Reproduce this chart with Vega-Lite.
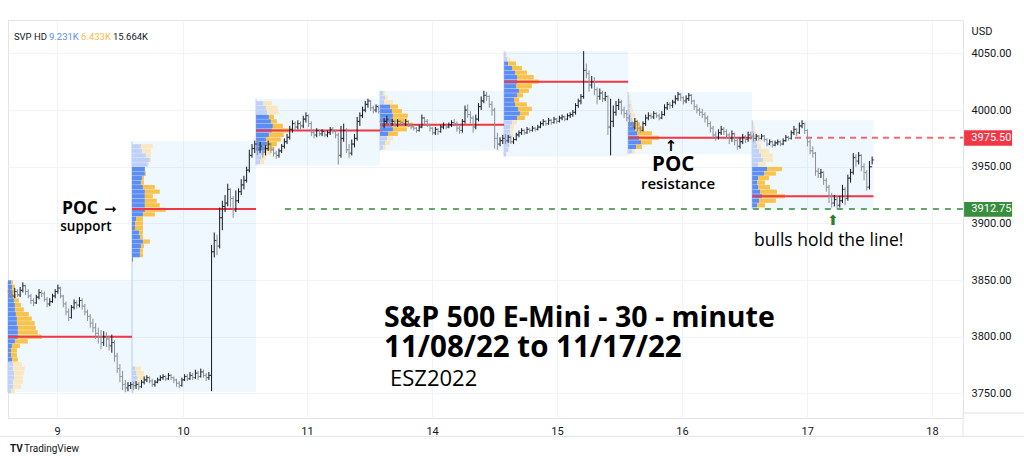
{
"$schema": "https://vega.github.io/schema/vega-lite/v6.json",
"width": 955, "height": 398,
"autosize": {"type": "none"},
"padding": {"left": 8, "top": 20, "right": 61, "bottom": 51},
"background": "white",
"config": {"view": {"stroke": "#e0e3eb"}, "font": "Roboto"},
"datasets": {
"bars": [
{"i":0,"o":3840,"h":3843,"l":3834,"c":3838},{"i":1,"o":3838,"h":3841,"l":3833,"c":3836},{"i":2,"o":3836,"h":3843,"l":3834,"c":3840},{"i":3,"o":3840,"h":3842,"l":3835,"c":3837},{"i":4,"o":3837,"h":3844,"l":3835,"c":3841},{"i":5,"o":3841,"h":3848,"l":3839,"c":3845},{"i":6,"o":3845,"h":3846,"l":3837,"c":3840},{"i":7,"o":3840,"h":3842,"l":3834,"c":3836},{"i":8,"o":3836,"h":3838,"l":3829,"c":3832},{"i":9,"o":3832,"h":3834,"l":3827,"c":3830},
{"i":10,"o":3830,"h":3837,"l":3829,"c":3835},{"i":11,"o":3835,"h":3842,"l":3833,"c":3839},{"i":12,"o":3839,"h":3841,"l":3835,"c":3838},{"i":13,"o":3838,"h":3840,"l":3831,"c":3833},{"i":14,"o":3833,"h":3835,"l":3826,"c":3829},{"i":15,"o":3829,"h":3834,"l":3827,"c":3831},{"i":16,"o":3831,"h":3838,"l":3830,"c":3836},{"i":17,"o":3836,"h":3842,"l":3834,"c":3840},{"i":18,"o":3840,"h":3846,"l":3838,"c":3843},{"i":19,"o":3843,"h":3844,"l":3834,"c":3836},
{"i":20,"o":3836,"h":3837,"l":3826,"c":3829},{"i":21,"o":3829,"h":3831,"l":3819,"c":3822},{"i":22,"o":3822,"h":3825,"l":3814,"c":3817},{"i":23,"o":3817,"h":3828,"l":3816,"c":3826},{"i":24,"o":3826,"h":3833,"l":3824,"c":3830},{"i":25,"o":3830,"h":3832,"l":3825,"c":3828},{"i":26,"o":3828,"h":3835,"l":3826,"c":3832},{"i":27,"o":3832,"h":3834,"l":3824,"c":3827},{"i":28,"o":3827,"h":3829,"l":3819,"c":3822},{"i":29,"o":3822,"h":3824,"l":3814,"c":3818},
{"i":30,"o":3818,"h":3820,"l":3808,"c":3812},{"i":31,"o":3812,"h":3816,"l":3804,"c":3808},{"i":32,"o":3808,"h":3812,"l":3798,"c":3803},{"i":33,"o":3803,"h":3808,"l":3794,"c":3800},{"i":34,"o":3800,"h":3806,"l":3789,"c":3795},{"i":35,"o":3795,"h":3805,"l":3792,"c":3800},{"i":36,"o":3800,"h":3804,"l":3791,"c":3798},{"i":37,"o":3798,"h":3801,"l":3788,"c":3792},{"i":38,"o":3792,"h":3802,"l":3786,"c":3795},{"i":39,"o":3795,"h":3797,"l":3778,"c":3783},
{"i":40,"o":3783,"h":3786,"l":3768,"c":3772},{"i":41,"o":3772,"h":3776,"l":3760,"c":3765},{"i":42,"o":3765,"h":3770,"l":3753,"c":3758},{"i":43,"o":3758,"h":3762,"l":3751,"c":3755},{"i":44,"o":3755,"h":3760,"l":3752,"c":3757},{"i":45,"o":3757,"h":3760,"l":3754,"c":3758},
{"i":46,"o":3758,"h":3760,"l":3753,"c":3757},{"i":47,"o":3757,"h":3761,"l":3754,"c":3758},{"i":48,"o":3758,"h":3760,"l":3753,"c":3756},{"i":49,"o":3756,"h":3762,"l":3755,"c":3760},{"i":50,"o":3760,"h":3765,"l":3758,"c":3762},{"i":51,"o":3762,"h":3766,"l":3760,"c":3764},{"i":52,"o":3764,"h":3765,"l":3759,"c":3761},{"i":53,"o":3761,"h":3763,"l":3756,"c":3758},{"i":54,"o":3758,"h":3762,"l":3756,"c":3760},{"i":55,"o":3760,"h":3764,"l":3759,"c":3762},
{"i":56,"o":3762,"h":3766,"l":3761,"c":3764},{"i":57,"o":3764,"h":3767,"l":3762,"c":3765},{"i":58,"o":3765,"h":3766,"l":3761,"c":3763},{"i":59,"o":3763,"h":3768,"l":3762,"c":3766},{"i":60,"o":3766,"h":3767,"l":3762,"c":3764},{"i":61,"o":3764,"h":3765,"l":3759,"c":3762},{"i":62,"o":3762,"h":3763,"l":3756,"c":3759},{"i":63,"o":3759,"h":3761,"l":3755,"c":3757},{"i":64,"o":3757,"h":3764,"l":3756,"c":3762},{"i":65,"o":3762,"h":3767,"l":3761,"c":3765},
{"i":66,"o":3765,"h":3767,"l":3761,"c":3763},{"i":67,"o":3763,"h":3769,"l":3762,"c":3766},{"i":68,"o":3766,"h":3768,"l":3762,"c":3764},{"i":69,"o":3764,"h":3771,"l":3763,"c":3768},{"i":70,"o":3768,"h":3770,"l":3762,"c":3765},{"i":71,"o":3765,"h":3772,"l":3764,"c":3769},{"i":72,"o":3769,"h":3771,"l":3764,"c":3766},{"i":73,"o":3766,"h":3768,"l":3761,"c":3764},{"i":74,"o":3764,"h":3769,"l":3762,"c":3766},{"i":75,"o":3766,"h":3881,"l":3752,"c":3875},
{"i":76,"o":3875,"h":3892,"l":3870,"c":3885},{"i":77,"o":3885,"h":3890,"l":3872,"c":3880},{"i":78,"o":3880,"h":3914,"l":3878,"c":3905},{"i":79,"o":3905,"h":3920,"l":3894,"c":3915},{"i":80,"o":3915,"h":3925,"l":3910,"c":3918},{"i":81,"o":3918,"h":3935,"l":3915,"c":3930},{"i":82,"o":3930,"h":3931,"l":3914,"c":3922},{"i":83,"o":3922,"h":3924,"l":3905,"c":3912},{"i":84,"o":3912,"h":3929,"l":3910,"c":3920},{"i":85,"o":3920,"h":3931,"l":3918,"c":3928},
{"i":86,"o":3928,"h":3939,"l":3925,"c":3934},{"i":87,"o":3934,"h":3942,"l":3930,"c":3938},{"i":88,"o":3938,"h":3950,"l":3936,"c":3947},{"i":89,"o":3947,"h":3965,"l":3945,"c":3960},{"i":90,"o":3960,"h":3970,"l":3958,"c":3966},{"i":91,"o":3966,"h":3973,"l":3962,"c":3970},
{"i":92,"o":3970,"h":3974,"l":3960,"c":3965},{"i":93,"o":3965,"h":3972,"l":3962,"c":3968},{"i":94,"o":3968,"h":3970,"l":3958,"c":3963},{"i":95,"o":3963,"h":3969,"l":3960,"c":3966},{"i":96,"o":3966,"h":3973,"l":3964,"c":3970},{"i":97,"o":3970,"h":3971,"l":3962,"c":3965},{"i":98,"o":3965,"h":3967,"l":3959,"c":3962},{"i":99,"o":3962,"h":3964,"l":3957,"c":3960},{"i":100,"o":3960,"h":3966,"l":3958,"c":3964},{"i":101,"o":3964,"h":3970,"l":3962,"c":3968},
{"i":102,"o":3968,"h":3975,"l":3966,"c":3972},{"i":103,"o":3972,"h":3979,"l":3970,"c":3976},{"i":104,"o":3976,"h":3986,"l":3974,"c":3983},{"i":105,"o":3983,"h":3991,"l":3980,"c":3988},{"i":106,"o":3988,"h":3990,"l":3982,"c":3985},{"i":107,"o":3985,"h":3991,"l":3983,"c":3988},{"i":108,"o":3988,"h":3990,"l":3983,"c":3986},{"i":109,"o":3986,"h":3995,"l":3984,"c":3992},{"i":110,"o":3992,"h":3998,"l":3989,"c":3995},{"i":111,"o":3995,"h":3996,"l":3985,"c":3988},
{"i":112,"o":3988,"h":3990,"l":3977,"c":3980},{"i":113,"o":3980,"h":3983,"l":3975,"c":3978},{"i":114,"o":3978,"h":3984,"l":3976,"c":3982},{"i":115,"o":3982,"h":3983,"l":3977,"c":3979},{"i":116,"o":3979,"h":3983,"l":3977,"c":3981},{"i":117,"o":3981,"h":3982,"l":3976,"c":3978},{"i":118,"o":3978,"h":3982,"l":3976,"c":3980},{"i":119,"o":3980,"h":3985,"l":3978,"c":3983},{"i":120,"o":3983,"h":3985,"l":3979,"c":3981},{"i":121,"o":3981,"h":3983,"l":3975,"c":3978},
{"i":122,"o":3978,"h":3980,"l":3952,"c":3960},{"i":123,"o":3960,"h":3986,"l":3958,"c":3975},{"i":124,"o":3975,"h":3988,"l":3972,"c":3982},{"i":125,"o":3982,"h":3984,"l":3962,"c":3965},{"i":126,"o":3965,"h":3970,"l":3958,"c":3962},{"i":127,"o":3962,"h":3974,"l":3960,"c":3970},{"i":128,"o":3970,"h":3979,"l":3967,"c":3975},{"i":129,"o":3975,"h":3994,"l":3973,"c":3990},{"i":130,"o":3990,"h":3998,"l":3986,"c":3995},{"i":131,"o":3995,"h":4003,"l":3993,"c":4000},
{"i":132,"o":4000,"h":4008,"l":3998,"c":4005},{"i":133,"o":4005,"h":4010,"l":4002,"c":4008},{"i":134,"o":4008,"h":4009,"l":3999,"c":4002},{"i":135,"o":4002,"h":4004,"l":3997,"c":4000},{"i":136,"o":4000,"h":4005,"l":3998,"c":4003},{"i":137,"o":4003,"h":4004,"l":3997,"c":3999},
{"i":138,"o":3990,"h":3993,"l":3980,"c":3986},{"i":139,"o":3986,"h":3993,"l":3984,"c":3990},{"i":140,"o":3990,"h":3995,"l":3988,"c":3992},{"i":141,"o":3992,"h":3994,"l":3986,"c":3988},{"i":142,"o":3988,"h":3992,"l":3986,"c":3990},{"i":143,"o":3990,"h":3991,"l":3985,"c":3987},{"i":144,"o":3987,"h":3992,"l":3985,"c":3990},{"i":145,"o":3990,"h":3991,"l":3987,"c":3989},{"i":146,"o":3989,"h":3990,"l":3986,"c":3988},{"i":147,"o":3988,"h":3992,"l":3986,"c":3990},
{"i":148,"o":3990,"h":3991,"l":3985,"c":3987},{"i":149,"o":3987,"h":3988,"l":3983,"c":3985},{"i":150,"o":3985,"h":3987,"l":3982,"c":3984},{"i":151,"o":3984,"h":3985,"l":3980,"c":3982},{"i":152,"o":3982,"h":3987,"l":3981,"c":3985},{"i":153,"o":3985,"h":3996,"l":3984,"c":3993},{"i":154,"o":3993,"h":3994,"l":3987,"c":3990},{"i":155,"o":3990,"h":3992,"l":3985,"c":3987},{"i":156,"o":3987,"h":3988,"l":3981,"c":3984},{"i":157,"o":3984,"h":3985,"l":3978,"c":3980},
{"i":158,"o":3980,"h":3985,"l":3978,"c":3983},{"i":159,"o":3983,"h":3984,"l":3978,"c":3981},{"i":160,"o":3981,"h":3987,"l":3980,"c":3985},{"i":161,"o":3985,"h":3989,"l":3983,"c":3987},{"i":162,"o":3987,"h":3988,"l":3983,"c":3985},{"i":163,"o":3985,"h":3989,"l":3984,"c":3987},{"i":164,"o":3987,"h":3991,"l":3985,"c":3989},{"i":165,"o":3989,"h":3992,"l":3986,"c":3988},{"i":166,"o":3988,"h":3990,"l":3981,"c":3984},{"i":167,"o":3984,"h":3986,"l":3979,"c":3982},
{"i":168,"o":3982,"h":3992,"l":3980,"c":3990},{"i":169,"o":3990,"h":4004,"l":3988,"c":4000},{"i":170,"o":4000,"h":4005,"l":3993,"c":3996},{"i":171,"o":3996,"h":3999,"l":3988,"c":3993},{"i":172,"o":3993,"h":3995,"l":3980,"c":3985},{"i":173,"o":3985,"h":3996,"l":3983,"c":3992},{"i":174,"o":3992,"h":4006,"l":3990,"c":4003},{"i":175,"o":4003,"h":4012,"l":4000,"c":4008},{"i":176,"o":4008,"h":4017,"l":4006,"c":4013},{"i":177,"o":4013,"h":4016,"l":4008,"c":4012},
{"i":178,"o":4012,"h":4013,"l":4002,"c":4005},{"i":179,"o":4005,"h":4008,"l":3995,"c":4000},{"i":180,"o":4000,"h":4002,"l":3966,"c":3975},{"i":181,"o":3975,"h":3980,"l":3965,"c":3970},{"i":182,"o":3970,"h":3976,"l":3968,"c":3973},{"i":183,"o":3973,"h":3978,"l":3970,"c":3975},
{"i":184,"o":3975,"h":3979,"l":3970,"c":3973},{"i":185,"o":3973,"h":3978,"l":3971,"c":3976},{"i":186,"o":3976,"h":3977,"l":3970,"c":3972},{"i":187,"o":3972,"h":3976,"l":3970,"c":3974},{"i":188,"o":3974,"h":3980,"l":3973,"c":3978},{"i":189,"o":3978,"h":3982,"l":3976,"c":3980},{"i":190,"o":3980,"h":3984,"l":3978,"c":3982},{"i":191,"o":3982,"h":3983,"l":3978,"c":3980},{"i":192,"o":3980,"h":3985,"l":3979,"c":3983},{"i":193,"o":3983,"h":3984,"l":3980,"c":3982},
{"i":194,"o":3982,"h":3986,"l":3981,"c":3984},{"i":195,"o":3984,"h":3985,"l":3981,"c":3983},{"i":196,"o":3983,"h":3987,"l":3982,"c":3985},{"i":197,"o":3985,"h":3990,"l":3984,"c":3988},{"i":198,"o":3988,"h":3992,"l":3986,"c":3990},{"i":199,"o":3990,"h":3991,"l":3986,"c":3988},{"i":200,"o":3988,"h":3993,"l":3987,"c":3991},{"i":201,"o":3991,"h":3992,"l":3987,"c":3989},{"i":202,"o":3989,"h":3994,"l":3988,"c":3992},{"i":203,"o":3992,"h":3993,"l":3988,"c":3990},
{"i":204,"o":3990,"h":3995,"l":3989,"c":3993},{"i":205,"o":3993,"h":3996,"l":3991,"c":3994},{"i":206,"o":3994,"h":3995,"l":3990,"c":3992},{"i":207,"o":3992,"h":3997,"l":3991,"c":3995},{"i":208,"o":3995,"h":3998,"l":3993,"c":3996},{"i":209,"o":3996,"h":4000,"l":3994,"c":3998},{"i":210,"o":3998,"h":4006,"l":3996,"c":4004},{"i":211,"o":4004,"h":4010,"l":4002,"c":4008},{"i":212,"o":4008,"h":4014,"l":4005,"c":4012},{"i":213,"o":4012,"h":4052,"l":4010,"c":4035},
{"i":214,"o":4035,"h":4041,"l":4028,"c":4032},{"i":215,"o":4032,"h":4035,"l":4016,"c":4022},{"i":216,"o":4022,"h":4030,"l":4019,"c":4025},{"i":217,"o":4025,"h":4029,"l":4013,"c":4018},{"i":218,"o":4018,"h":4020,"l":4005,"c":4012},{"i":219,"o":4012,"h":4019,"l":4009,"c":4015},{"i":220,"o":4015,"h":4017,"l":4007,"c":4010},{"i":221,"o":4010,"h":4016,"l":4008,"c":4012},{"i":222,"o":4012,"h":4013,"l":3978,"c":3985},{"i":223,"o":3985,"h":4010,"l":3960,"c":3990},
{"i":224,"o":3990,"h":4004,"l":3985,"c":3998},{"i":225,"o":3998,"h":4008,"l":3995,"c":4004},{"i":226,"o":4004,"h":4010,"l":4000,"c":4007},{"i":227,"o":4007,"h":4009,"l":3996,"c":4000},{"i":228,"o":4000,"h":4003,"l":3993,"c":3997},{"i":229,"o":3997,"h":4000,"l":3990,"c":3993},
{"i":230,"o":3993,"h":3996,"l":3985,"c":3988},{"i":231,"o":3988,"h":3990,"l":3982,"c":3985},{"i":232,"o":3985,"h":3993,"l":3983,"c":3990},{"i":233,"o":3990,"h":3991,"l":3981,"c":3984},{"i":234,"o":3984,"h":3986,"l":3980,"c":3982},{"i":235,"o":3982,"h":3990,"l":3981,"c":3988},{"i":236,"o":3988,"h":3996,"l":3986,"c":3993},{"i":237,"o":3993,"h":3998,"l":3991,"c":3995},{"i":238,"o":3995,"h":3997,"l":3992,"c":3994},{"i":239,"o":3994,"h":3999,"l":3992,"c":3997},
{"i":240,"o":3997,"h":3998,"l":3993,"c":3995},{"i":241,"o":3995,"h":3997,"l":3991,"c":3993},{"i":242,"o":3993,"h":3999,"l":3992,"c":3996},{"i":243,"o":3996,"h":4005,"l":3995,"c":4002},{"i":244,"o":4002,"h":4007,"l":4000,"c":4005},{"i":245,"o":4005,"h":4007,"l":4001,"c":4004},{"i":246,"o":4004,"h":4009,"l":4002,"c":4007},{"i":247,"o":4007,"h":4013,"l":4005,"c":4010},{"i":248,"o":4010,"h":4016,"l":4008,"c":4014},{"i":249,"o":4014,"h":4015,"l":4008,"c":4011},
{"i":250,"o":4011,"h":4012,"l":4005,"c":4008},{"i":251,"o":4008,"h":4013,"l":4006,"c":4010},{"i":252,"o":4010,"h":4015,"l":4008,"c":4013},{"i":253,"o":4013,"h":4014,"l":4005,"c":4008},{"i":254,"o":4008,"h":4009,"l":4000,"c":4003},{"i":255,"o":4003,"h":4005,"l":3997,"c":4000},{"i":256,"o":4000,"h":4002,"l":3995,"c":3998},{"i":257,"o":3998,"h":4001,"l":3993,"c":3996},{"i":258,"o":3996,"h":3998,"l":3989,"c":3993},{"i":259,"o":3993,"h":3995,"l":3985,"c":3988},
{"i":260,"o":3988,"h":3990,"l":3980,"c":3984},{"i":261,"o":3984,"h":3986,"l":3975,"c":3978},{"i":262,"o":3978,"h":3981,"l":3973,"c":3976},{"i":263,"o":3976,"h":3983,"l":3974,"c":3980},{"i":264,"o":3980,"h":3986,"l":3978,"c":3983},{"i":265,"o":3983,"h":3985,"l":3978,"c":3981},{"i":266,"o":3981,"h":3983,"l":3975,"c":3978},{"i":267,"o":3978,"h":3980,"l":3970,"c":3975},{"i":268,"o":3975,"h":3982,"l":3972,"c":3979},{"i":269,"o":3979,"h":3980,"l":3969,"c":3973},
{"i":270,"o":3973,"h":3975,"l":3965,"c":3968},{"i":271,"o":3968,"h":3976,"l":3966,"c":3972},{"i":272,"o":3972,"h":3979,"l":3970,"c":3976},{"i":273,"o":3976,"h":3978,"l":3971,"c":3974},{"i":274,"o":3974,"h":3981,"l":3972,"c":3978},{"i":275,"o":3978,"h":3981,"l":3974,"c":3977},
{"i":276,"o":3977,"h":3980,"l":3972,"c":3975},{"i":277,"o":3975,"h":3979,"l":3973,"c":3977},{"i":278,"o":3977,"h":3978,"l":3973,"c":3975},{"i":279,"o":3975,"h":3979,"l":3974,"c":3977},{"i":280,"o":3977,"h":3978,"l":3972,"c":3974},{"i":281,"o":3974,"h":3975,"l":3968,"c":3970},{"i":282,"o":3970,"h":3974,"l":3969,"c":3972},{"i":283,"o":3972,"h":3973,"l":3967,"c":3969},{"i":284,"o":3969,"h":3973,"l":3968,"c":3971},{"i":285,"o":3971,"h":3974,"l":3969,"c":3972},
{"i":286,"o":3972,"h":3973,"l":3968,"c":3970},{"i":287,"o":3970,"h":3975,"l":3969,"c":3973},{"i":288,"o":3973,"h":3978,"l":3972,"c":3976},{"i":289,"o":3976,"h":3977,"l":3973,"c":3975},{"i":290,"o":3975,"h":3982,"l":3974,"c":3980},{"i":291,"o":3980,"h":3986,"l":3978,"c":3983},{"i":292,"o":3983,"h":3984,"l":3977,"c":3980},{"i":293,"o":3980,"h":3989,"l":3979,"c":3986},{"i":294,"o":3986,"h":3991,"l":3984,"c":3988},{"i":295,"o":3988,"h":3989,"l":3979,"c":3982},
{"i":296,"o":3982,"h":3983,"l":3968,"c":3972},{"i":297,"o":3972,"h":3974,"l":3961,"c":3964},{"i":298,"o":3964,"h":3968,"l":3958,"c":3962},{"i":299,"o":3962,"h":3963,"l":3942,"c":3946},{"i":300,"o":3946,"h":3949,"l":3940,"c":3944},{"i":301,"o":3944,"h":3948,"l":3940,"c":3945},{"i":302,"o":3945,"h":3946,"l":3934,"c":3938},{"i":303,"o":3938,"h":3940,"l":3928,"c":3932},{"i":304,"o":3932,"h":3934,"l":3918,"c":3924},{"i":305,"o":3924,"h":3927,"l":3914,"c":3918},
{"i":306,"o":3918,"h":3925,"l":3915,"c":3921},{"i":307,"o":3921,"h":3923,"l":3913,"c":3916},{"i":308,"o":3916,"h":3924,"l":3914,"c":3920},{"i":309,"o":3920,"h":3934,"l":3918,"c":3930},{"i":310,"o":3930,"h":3932,"l":3916,"c":3922},{"i":311,"o":3922,"h":3943,"l":3920,"c":3940},{"i":312,"o":3940,"h":3948,"l":3936,"c":3945},{"i":313,"o":3945,"h":3962,"l":3943,"c":3958},{"i":314,"o":3958,"h":3961,"l":3950,"c":3955},{"i":315,"o":3955,"h":3963,"l":3952,"c":3960},
{"i":316,"o":3960,"h":3961,"l":3946,"c":3950},{"i":317,"o":3950,"h":3953,"l":3938,"c":3945},{"i":318,"o":3945,"h":3947,"l":3929,"c":3932},{"i":319,"o":3932,"h":3955,"l":3930,"c":3950},{"i":320,"o":3950,"h":3959,"l":3952,"c":3956}
],
"sess": [
{"t0":-0.5,"t1":45.5,"lo":3751,"hi":3849,"poc":3800},
{"t0":45.5,"t1":91.5,"lo":3751,"hi":3972.5,"poc":3912.75},
{"t0":91.5,"t1":137.5,"lo":3951,"hi":4010,"poc":3982},
{"t0":137.5,"t1":183.5,"lo":3964,"hi":4017,"poc":3987},
{"t0":183.5,"t1":229.5,"lo":3959,"hi":4052,"poc":4025},
{"t0":229.5,"t1":275.5,"lo":3961,"hi":4016,"poc":3975.5},
{"t0":275.5,"t1":320.5,"lo":3912.75,"hi":3991,"poc":3924}
],
"prof": [
{"t":-0.5,"p":3848,"u":9,"d":6,"f":0},{"t":-0.5,"p":3844,"u":12,"d":9,"f":0},{"t":-0.5,"p":3840,"u":12,"d":9,"f":0},{"t":-0.5,"p":3836,"u":15,"d":9,"f":0},{"t":-0.5,"p":3832,"u":18,"d":15,"f":0},{"t":-0.5,"p":3828,"u":21,"d":18,"f":0},{"t":-0.5,"p":3824,"u":21,"d":27,"f":0},{"t":-0.5,"p":3820,"u":24,"d":39,"f":0},{"t":-0.5,"p":3816,"u":27,"d":45,"f":0},{"t":-0.5,"p":3812,"u":27,"d":54,"f":0},{"t":-0.5,"p":3808,"u":30,"d":54,"f":0},{"t":-0.5,"p":3804,"u":30,"d":60,"f":0},{"t":-0.5,"p":3800,"u":30,"d":72,"f":0},{"t":-0.5,"p":3796,"u":21,"d":39,"f":0},{"t":-0.5,"p":3792,"u":12,"d":24,"f":0},{"t":-0.5,"p":3788,"u":9,"d":18,"f":0},{"t":-0.5,"p":3784,"u":9,"d":18,"f":0},{"t":-0.5,"p":3780,"u":12,"d":18,"f":0},{"t":-0.5,"p":3776,"u":15,"d":27,"f":1},{"t":-0.5,"p":3772,"u":15,"d":36,"f":1},{"t":-0.5,"p":3768,"u":18,"d":30,"f":1},{"t":-0.5,"p":3764,"u":18,"d":27,"f":1},{"t":-0.5,"p":3760,"u":15,"d":30,"f":1},{"t":-0.5,"p":3756,"u":15,"d":24,"f":1},{"t":-0.5,"p":3752,"u":9,"d":12,"f":1},
{"t":45.5,"p":3968,"u":27,"d":36,"f":1},{"t":45.5,"p":3964,"u":30,"d":27,"f":1},{"t":45.5,"p":3960,"u":42,"d":15,"f":1},{"t":45.5,"p":3956,"u":54,"d":3,"f":1},{"t":45.5,"p":3952,"u":48,"d":3,"f":1},{"t":45.5,"p":3948,"u":39,"d":0,"f":0},{"t":45.5,"p":3944,"u":39,"d":3,"f":0},{"t":45.5,"p":3940,"u":30,"d":6,"f":0},{"t":45.5,"p":3936,"u":27,"d":9,"f":0},{"t":45.5,"p":3932,"u":33,"d":36,"f":0},{"t":45.5,"p":3928,"u":39,"d":45,"f":0},{"t":45.5,"p":3924,"u":39,"d":24,"f":0},{"t":45.5,"p":3920,"u":39,"d":36,"f":0},{"t":45.5,"p":3916,"u":39,"d":45,"f":0},{"t":45.5,"p":3912,"u":39,"d":63,"f":0},{"t":45.5,"p":3908,"u":33,"d":36,"f":0},{"t":45.5,"p":3904,"u":12,"d":21,"f":0},{"t":45.5,"p":3900,"u":9,"d":24,"f":0},{"t":45.5,"p":3896,"u":9,"d":24,"f":0},{"t":45.5,"p":3892,"u":21,"d":12,"f":0},{"t":45.5,"p":3888,"u":24,"d":9,"f":0},{"t":45.5,"p":3884,"u":33,"d":21,"f":0},{"t":45.5,"p":3880,"u":27,"d":9,"f":0},{"t":45.5,"p":3876,"u":24,"d":9,"f":0},{"t":45.5,"p":3872,"u":24,"d":9,"f":0},{"t":45.5,"p":3868,"u":3,"d":0,"f":0},{"t":45.5,"p":3772,"u":9,"d":18,"f":1},{"t":45.5,"p":3768,"u":12,"d":24,"f":1},{"t":45.5,"p":3764,"u":15,"d":27,"f":1},{"t":45.5,"p":3760,"u":12,"d":12,"f":1},{"t":45.5,"p":3756,"u":6,"d":6,"f":1},{"t":45.5,"p":3752,"u":3,"d":3,"f":1},
{"t":91.5,"p":4006,"u":21,"d":27,"f":1},{"t":91.5,"p":4002,"u":30,"d":36,"f":1},{"t":91.5,"p":3998,"u":33,"d":36,"f":1},{"t":91.5,"p":3994,"u":39,"d":15,"f":0},{"t":91.5,"p":3990,"u":45,"d":18,"f":0},{"t":91.5,"p":3986,"u":51,"d":30,"f":0},{"t":91.5,"p":3982,"u":48,"d":51,"f":0},{"t":91.5,"p":3978,"u":39,"d":45,"f":0},{"t":91.5,"p":3974,"u":30,"d":45,"f":0},{"t":91.5,"p":3970,"u":33,"d":30,"f":0},{"t":91.5,"p":3966,"u":30,"d":24,"f":0},{"t":91.5,"p":3962,"u":24,"d":21,"f":1},{"t":91.5,"p":3958,"u":15,"d":15,"f":1},{"t":91.5,"p":3954,"u":12,"d":12,"f":1},
{"t":137.5,"p":4015,"u":9,"d":6,"f":1},{"t":137.5,"p":4011,"u":15,"d":9,"f":1},{"t":137.5,"p":4007,"u":12,"d":27,"f":1},{"t":137.5,"p":4003,"u":30,"d":24,"f":0},{"t":137.5,"p":3999,"u":36,"d":30,"f":0},{"t":137.5,"p":3995,"u":39,"d":45,"f":0},{"t":137.5,"p":3991,"u":39,"d":42,"f":0},{"t":137.5,"p":3987,"u":36,"d":63,"f":0},{"t":137.5,"p":3983,"u":39,"d":42,"f":0},{"t":137.5,"p":3979,"u":24,"d":30,"f":0},{"t":137.5,"p":3975,"u":21,"d":18,"f":1},{"t":137.5,"p":3971,"u":15,"d":15,"f":1},{"t":137.5,"p":3967,"u":9,"d":9,"f":1},
{"t":183.5,"p":4049,"u":6,"d":3,"f":1},{"t":183.5,"p":4045,"u":9,"d":9,"f":1},{"t":183.5,"p":4041,"u":12,"d":24,"f":0},{"t":183.5,"p":4037,"u":24,"d":30,"f":0},{"t":183.5,"p":4033,"u":33,"d":36,"f":0},{"t":183.5,"p":4029,"u":39,"d":51,"f":0},{"t":183.5,"p":4025,"u":39,"d":66,"f":0},{"t":183.5,"p":4021,"u":36,"d":48,"f":0},{"t":183.5,"p":4017,"u":45,"d":30,"f":0},{"t":183.5,"p":4013,"u":39,"d":18,"f":0},{"t":183.5,"p":4009,"u":30,"d":15,"f":0},{"t":183.5,"p":4005,"u":33,"d":36,"f":0},{"t":183.5,"p":4001,"u":42,"d":42,"f":0},{"t":183.5,"p":3997,"u":48,"d":27,"f":0},{"t":183.5,"p":3993,"u":39,"d":24,"f":0},{"t":183.5,"p":3989,"u":24,"d":15,"f":1},{"t":183.5,"p":3985,"u":18,"d":12,"f":1},{"t":183.5,"p":3981,"u":18,"d":9,"f":1},{"t":183.5,"p":3977,"u":21,"d":9,"f":1},{"t":183.5,"p":3973,"u":18,"d":6,"f":1},{"t":183.5,"p":3969,"u":15,"d":3,"f":1},{"t":183.5,"p":3965,"u":12,"d":3,"f":1},{"t":183.5,"p":3961,"u":6,"d":0,"f":1},
{"t":229.5,"p":4011.5,"u":3,"d":3,"f":1},{"t":229.5,"p":4007.5,"u":3,"d":6,"f":1},{"t":229.5,"p":4003.5,"u":6,"d":6,"f":1},{"t":229.5,"p":3999.5,"u":6,"d":9,"f":1},{"t":229.5,"p":3995.5,"u":9,"d":12,"f":1},{"t":229.5,"p":3991.5,"u":12,"d":15,"f":1},{"t":229.5,"p":3987.5,"u":18,"d":18,"f":0},{"t":229.5,"p":3983.5,"u":21,"d":27,"f":0},{"t":229.5,"p":3979.5,"u":27,"d":45,"f":0},{"t":229.5,"p":3975.5,"u":33,"d":60,"f":0},{"t":229.5,"p":3971.5,"u":39,"d":33,"f":0},{"t":229.5,"p":3967.5,"u":24,"d":18,"f":0},{"t":229.5,"p":3963.5,"u":12,"d":9,"f":1},
{"t":275.5,"p":3988,"u":3,"d":3,"f":1},{"t":275.5,"p":3984,"u":3,"d":6,"f":1},{"t":275.5,"p":3980,"u":6,"d":6,"f":1},{"t":275.5,"p":3976,"u":9,"d":9,"f":1},{"t":275.5,"p":3972,"u":12,"d":9,"f":1},{"t":275.5,"p":3968,"u":15,"d":12,"f":1},{"t":275.5,"p":3964,"u":21,"d":30,"f":1},{"t":275.5,"p":3960,"u":27,"d":36,"f":1},{"t":275.5,"p":3956,"u":33,"d":30,"f":1},{"t":275.5,"p":3952,"u":18,"d":24,"f":1},{"t":275.5,"p":3948,"u":45,"d":45,"f":0},{"t":275.5,"p":3944,"u":36,"d":36,"f":0},{"t":275.5,"p":3940,"u":18,"d":33,"f":0},{"t":275.5,"p":3936,"u":15,"d":24,"f":0},{"t":275.5,"p":3932,"u":18,"d":36,"f":0},{"t":275.5,"p":3928,"u":24,"d":51,"f":0},{"t":275.5,"p":3924,"u":30,"d":69,"f":0},{"t":275.5,"p":3920,"u":21,"d":51,"f":0},{"t":275.5,"p":3916,"u":15,"d":24,"f":0}
]
},
"layer": [
{"data": {"name": "sess"},
 "mark": {"type": "rect", "color": "#2196f3", "opacity": 0.07},
 "encoding": {
  "x": {"field": "t0", "type": "quantitative", "scale": {"domain": [-0.5, 353.7], "nice": false, "zero": false},
   "axis": {"values": [17.7, 64.4, 110.4, 156.8, 203.1, 249.5, 295.9, 342.2], "labelExpr": "['9','10','11','14','15','16','17','18'][round((datum.value-17.7)/46.36)]", "grid": true, "gridColor": "#f0f3fa", "ticks": false, "domain": false, "labelFontSize": 11, "labelColor": "#131722", "labelPadding": 7, "labelFont": "Roboto", "title": null, "labelFontWeight": {"condition": {"test": "datum.label == '14'", "value": 700}, "value": 400}}},
  "x2": {"field": "t1"},
  "y": {"field": "lo", "type": "quantitative", "scale": {"domain": [3732.8, 4075], "nice": false, "zero": false},
   "axis": {"orient": "right", "values": [3750, 3775, 3800, 3825, 3850, 3875, 3900, 3925, 3950, 3975, 4000, 4025, 4050], "format": ".2f", "grid": true, "gridColor": "#f0f3fa", "ticks": false, "domain": false, "labelPadding": 8, "labelAlign": "left", "labelBaseline": "middle", "labelFontSize": 11, "labelColor": "#131722", "labelFont": "Roboto", "title": "USD", "titleAngle": 0, "titleX": 8, "titleY": 11, "titleAlign": "left", "titleBaseline": "middle", "titleFontSize": 11, "titleFontWeight": "normal", "titleColor": "#131722", "titleFont": "Roboto"}},
  "y2": {"field": "hi"}
 }},
{"data": {"values": [{}]},
 "layer": [
  {"mark": {"type": "rule", "color": "#e0e3eb", "strokeWidth": 1}, "encoding": {"x": {"datum": -3.5, "type": "quantitative"}, "x2": {"datum": 376.5}, "y": {"datum": 3712.2, "type": "quantitative"}}},
  {"mark": {"type": "rule", "color": "#e0e3eb", "strokeWidth": 1}, "encoding": {"x": {"datum": 353.7, "type": "quantitative"}, "x2": {"datum": 376.5}, "y": {"datum": 3732.8, "type": "quantitative"}}},
  {"mark": {"type": "rule", "color": "#e0e3eb", "strokeWidth": 1}, "encoding": {"x": {"datum": 353.7, "type": "quantitative"}, "y": {"datum": 3732.8, "type": "quantitative"}, "y2": {"datum": 3712.2}}}
 ]},
{"data": {"name": "sess"},
 "mark": {"type": "rule", "color": "#b7cbf7", "strokeWidth": 1},
 "encoding": {"x": {"field": "t0", "type": "quantitative"}, "y": {"field": "lo", "type": "quantitative"}, "y2": {"field": "hi"}}},
{"data": {"name": "prof"},
 "transform": [{"calculate": "datum.t + datum.u * 0.1224", "as": "xu"}, {"calculate": "datum.xu + datum.d * 0.1224", "as": "xd"}],
 "layer": [
  {"mark": {"type": "bar", "height": 4.2, "orient": "horizontal"},
   "encoding": {"x": {"field": "t", "type": "quantitative"}, "x2": {"field": "xu"}, "y": {"field": "p", "type": "quantitative"},
    "color": {"condition": {"test": "datum.f == 1", "value": "#bfd1fb"}, "value": "#5c8df6"}}},
  {"mark": {"type": "bar", "height": 4.2, "orient": "horizontal"},
   "encoding": {"x": {"field": "xu", "type": "quantitative"}, "x2": {"field": "xd"}, "y": {"field": "p", "type": "quantitative"},
    "color": {"condition": {"test": "datum.f == 1", "value": "#f9e7bf"}, "value": "#f9c24a"}}}
 ]},
{"data": {"name": "sess"},
 "mark": {"type": "rule", "color": "#f23645", "strokeWidth": 2},
 "encoding": {"x": {"field": "t0", "type": "quantitative"}, "x2": {"field": "t1"}, "y": {"field": "poc", "type": "quantitative"}}},
{"data": {"values": [{}]},
 "mark": {"type": "rule", "color": "#f23645", "opacity": 0.75, "strokeWidth": 2, "strokeDash": [6, 5]},
 "encoding": {"x": {"datum": 291.4, "type": "quantitative"}, "x2": {"datum": 353.7}, "y": {"datum": 3975.5, "type": "quantitative"}}},
{"data": {"values": [{}]},
 "mark": {"type": "rule", "color": "#2e8b3a", "strokeWidth": 1.5, "strokeDash": [6, 6]},
 "encoding": {"x": {"datum": 102.2, "type": "quantitative"}, "x2": {"datum": 353.7}, "y": {"datum": 3912.75, "type": "quantitative"}}},
{"data": {"name": "bars"},
 "encoding": {"x": {"field": "i", "type": "quantitative"},
  "color": {"condition": {"test": "datum.c >= datum.o", "value": "#131722"}, "value": "#8c8f98"}},
 "layer": [
  {"mark": {"type": "rule", "strokeWidth": 1}, "encoding": {"y": {"field": "l", "type": "quantitative"}, "y2": {"field": "h"}}},
  {"mark": {"type": "tick", "orient": "horizontal", "size": 2, "thickness": 1, "xOffset": -1}, "encoding": {"y": {"field": "o", "type": "quantitative"}}},
  {"mark": {"type": "tick", "orient": "horizontal", "size": 2, "thickness": 1, "xOffset": 1}, "encoding": {"y": {"field": "c", "type": "quantitative"}}}
 ]},
{"data": {"values": [{}]},
 "layer": [
  {"mark": {"type": "text", "text": "SVP HD", "align": "left", "baseline": "middle", "fontSize": 9.5, "color": "#131722", "font": "Roboto"}, "encoding": {"x": {"datum": 1.7, "type": "quantitative"}, "y": {"datum": 4064.7, "type": "quantitative"}}},
  {"mark": {"type": "text", "text": "9.231K", "align": "left", "baseline": "middle", "fontSize": 9.5, "color": "#5b8ef5", "font": "Roboto"}, "encoding": {"x": {"datum": 14.7, "type": "quantitative"}, "y": {"datum": 4064.7, "type": "quantitative"}}},
  {"mark": {"type": "text", "text": "6.433K", "align": "left", "baseline": "middle", "fontSize": 9.5, "color": "#f2bd4c", "font": "Roboto"}, "encoding": {"x": {"datum": 26.6, "type": "quantitative"}, "y": {"datum": 4064.7, "type": "quantitative"}}},
  {"mark": {"type": "text", "text": "15.664K", "align": "left", "baseline": "middle", "fontSize": 9.5, "color": "#131722", "font": "Roboto"}, "encoding": {"x": {"datum": 38.4, "type": "quantitative"}, "y": {"datum": 4064.7, "type": "quantitative"}}},
  {"mark": {"type": "text", "text": "POC", "align": "left", "baseline": "middle", "fontSize": 17.5, "fontWeight": "bold", "color": "#000000", "font": "Open Sans"}, "encoding": {"x": {"datum": 19.5, "type": "quantitative"}, "y": {"datum": 3912.4, "type": "quantitative"}}},
  {"mark": {"type": "text", "text": "➞", "align": "left", "baseline": "middle", "fontSize": 15, "color": "#000000", "font": "DejaVu Sans"}, "encoding": {"x": {"datum": 35.2, "type": "quantitative"}, "y": {"datum": 3912.5, "type": "quantitative"}}},
  {"mark": {"type": "text", "text": "support", "align": "center", "baseline": "middle", "fontSize": 13.5, "fontWeight": 600, "color": "#000000", "font": "Open Sans"}, "encoding": {"x": {"datum": 28.4, "type": "quantitative"}, "y": {"datum": 3896.6, "type": "quantitative"}}},
  {"mark": {"type": "text", "text": "↑", "align": "center", "baseline": "middle", "fontSize": 15, "fontWeight": "bold", "color": "#000000", "font": "DejaVu Sans"}, "encoding": {"x": {"datum": 245.4, "type": "quantitative"}, "y": {"datum": 3968.2, "type": "quantitative"}}},
  {"mark": {"type": "text", "text": "POC", "align": "center", "baseline": "middle", "fontSize": 20.5, "fontWeight": "bold", "color": "#000000", "font": "Open Sans"}, "encoding": {"x": {"datum": 246.2, "type": "quantitative"}, "y": {"datum": 3951.8, "type": "quantitative"}}},
  {"mark": {"type": "text", "text": "resistance", "align": "center", "baseline": "middle", "fontSize": 15, "fontWeight": 600, "color": "#000000", "font": "Open Sans"}, "encoding": {"x": {"datum": 248, "type": "quantitative"}, "y": {"datum": 3935.2, "type": "quantitative"}}},
  {"mark": {"type": "text", "text": "⬆", "align": "center", "baseline": "middle", "fontSize": 14, "color": "#2e7d32", "font": "DejaVu Sans"}, "encoding": {"x": {"datum": 305.5, "type": "quantitative"}, "y": {"datum": 3902.5, "type": "quantitative"}}},
  {"mark": {"type": "text", "text": "bulls hold the line!", "align": "left", "baseline": "middle", "fontSize": 17.5, "color": "#000000", "font": "Open Sans"}, "encoding": {"x": {"datum": 276.2, "type": "quantitative"}, "y": {"datum": 3884.5, "type": "quantitative"}}},
  {"mark": {"type": "text", "text": "S&P 500 E-Mini - 30 - minute", "align": "left", "baseline": "middle", "fontSize": 28.5, "fontWeight": "bold", "color": "#000000", "font": "Open Sans"}, "encoding": {"x": {"datum": 139, "type": "quantitative"}, "y": {"datum": 3816.2, "type": "quantitative"}}},
  {"mark": {"type": "text", "text": "11/08/22 to 11/17/22", "align": "left", "baseline": "middle", "fontSize": 29.5, "fontWeight": "bold", "color": "#000000", "font": "Open Sans"}, "encoding": {"x": {"datum": 139, "type": "quantitative"}, "y": {"datum": 3790.2, "type": "quantitative"}}},
  {"mark": {"type": "text", "text": "ESZ2022", "align": "left", "baseline": "middle", "fontSize": 22, "color": "#000000", "font": "Open Sans"}, "encoding": {"x": {"datum": 141.2, "type": "quantitative"}, "y": {"datum": 3762.9, "type": "quantitative"}}},
  {"mark": {"type": "text", "text": "TradingView", "align": "left", "baseline": "middle", "fontSize": 10, "color": "#131722", "font": "Roboto"}, "encoding": {"x": {"datum": 5.4, "type": "quantitative"}, "y": {"datum": 3701, "type": "quantitative"}}},
  {"mark": {"type": "text", "text": "TV", "align": "left", "baseline": "middle", "fontSize": 10, "fontWeight": "bold", "color": "#131722", "font": "Roboto"}, "encoding": {"x": {"datum": 0.2, "type": "quantitative"}, "y": {"datum": 3701, "type": "quantitative"}}},
  {"mark": {"type": "rect", "color": "#f23645"}, "encoding": {"x": {"datum": 354.1, "type": "quantitative"}, "x2": {"datum": 371.9}, "y": {"datum": 3968.4, "type": "quantitative"}, "y2": {"datum": 3982.2}}},
  {"mark": {"type": "text", "text": "3975.50", "align": "left", "baseline": "middle", "fontSize": 11, "color": "#ffffff", "font": "Roboto"}, "encoding": {"x": {"datum": 356.8, "type": "quantitative"}, "y": {"datum": 3975.3, "type": "quantitative"}}},
  {"mark": {"type": "rect", "color": "#388e3c"}, "encoding": {"x": {"datum": 354.1, "type": "quantitative"}, "x2": {"datum": 371.9}, "y": {"datum": 3905.9, "type": "quantitative"}, "y2": {"datum": 3918.8}}},
  {"mark": {"type": "text", "text": "3912.75", "align": "left", "baseline": "middle", "fontSize": 11, "color": "#ffffff", "font": "Roboto"}, "encoding": {"x": {"datum": 356.8, "type": "quantitative"}, "y": {"datum": 3912.4, "type": "quantitative"}}}
 ]}
]
}
